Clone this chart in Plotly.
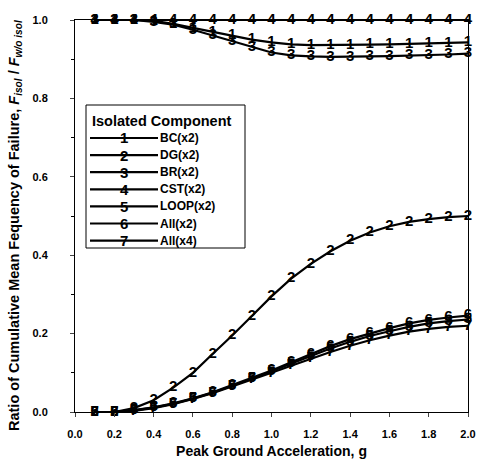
import plotly.graph_objects as go

pga = [0.1, 0.2, 0.3, 0.4, 0.5, 0.6, 0.7, 0.8, 0.9, 1.0,
       1.1, 1.2, 1.3, 1.4, 1.5, 1.6, 1.7, 1.8, 1.9, 2.0]

bc = [1.0, 1.0, 1.0, 0.998, 0.99, 0.98, 0.97, 0.96, 0.95, 0.943,
      0.938, 0.936, 0.936, 0.936, 0.937, 0.938, 0.939, 0.940, 0.941, 0.943]
dg = [0.0, 0.0, 0.01, 0.03, 0.062, 0.10, 0.148, 0.195, 0.245, 0.295,
      0.34, 0.378, 0.41, 0.437, 0.458, 0.474, 0.485, 0.492, 0.497, 0.50]
br = [1.0, 1.0, 1.0, 0.995, 0.988, 0.975, 0.96, 0.945, 0.93, 0.917,
      0.91, 0.907, 0.906, 0.906, 0.907, 0.908, 0.909, 0.911, 0.912, 0.914]
cst = [1.0] * 20
loop = [0.0, 0.0, 0.004, 0.011, 0.021, 0.034, 0.049, 0.066, 0.085, 0.104,
        0.124, 0.143, 0.162, 0.179, 0.194, 0.206, 0.217, 0.226, 0.232, 0.236]
all2 = [0.0, 0.0, 0.005, 0.012, 0.022, 0.035, 0.05, 0.068, 0.087, 0.106,
        0.127, 0.148, 0.168, 0.186, 0.201, 0.214, 0.226, 0.235, 0.241, 0.246]
all4 = [0.0, 0.0, 0.003, 0.01, 0.02, 0.033, 0.048, 0.065, 0.083, 0.1,
        0.118, 0.136, 0.153, 0.169, 0.183, 0.195, 0.205, 0.212, 0.217, 0.22]

names = ["BC(x2)", "DG(x2)", "BR(x2)", "CST(x2)", "LOOP(x2)", "All(x2)", "All(x4)"]
symbols = ["1", "2", "3", "4", "5", "6", "7"]
series = [bc, dg, br, cst, loop, all2, all4]

x_ticks = [0.0, 0.2, 0.4, 0.6, 0.8, 1.0, 1.2, 1.4, 1.6, 1.8, 2.0]
y_ticks = [0.0, 0.2, 0.4, 0.6, 0.8, 1.0]

FONT = "Liberation Sans, Arial, sans-serif"

fig = go.Figure()
for vals, sym, nm in zip(series, symbols, names):
    fig.add_trace(go.Scatter(
        x=pga, y=vals, name=nm, mode="lines+text",
        text=["<b>" + sym + "</b>"] * len(pga), textposition="middle center",
        textfont=dict(family=FONT, size=15, color="black"),
        line=dict(color="black", width=2.2), showlegend=False,
        cliponaxis=False))

FW, FH = 479, 463
L, R, T, B = 75.0, 468.0, 20.0, 412.0
W, H = R - L, B - T
def px(xp):
    return (xp - L) / W
def py(yp):
    return (B - yp) / H

shapes = [dict(type="rect", xref="paper", yref="paper",
               x0=px(86), x1=px(245), y0=py(248), y1=py(105),
               line=dict(color="black", width=1), fillcolor="white", layer="above")]
annotations = [dict(xref="paper", yref="paper", x=px(90), y=py(121),
                    text="<b>Isolated Component</b>", showarrow=False,
                    xanchor="left", yanchor="middle",
                    font=dict(family=FONT, size=14.5, color="black"))]
for i, (sym, nm) in enumerate(zip(symbols, names)):
    yy = 138 + i * 17.1
    shapes.append(dict(type="line", xref="paper", yref="paper",
                       x0=px(90), x1=px(158), y0=py(yy), y1=py(yy),
                       line=dict(color="black", width=2.2), layer="above"))
    annotations.append(dict(xref="paper", yref="paper", x=px(124), y=py(yy),
                            text="<b>" + sym + "</b>", showarrow=False,
                            xanchor="center", yanchor="middle",
                            font=dict(family=FONT, size=15, color="black")))
    annotations.append(dict(xref="paper", yref="paper", x=px(158), y=py(yy),
                            text="<b>" + nm + "</b>", showarrow=False,
                            xanchor="left", yanchor="middle",
                            font=dict(family=FONT, size=12, color="black")))

# y-axis title as rotated annotation
annotations.append(dict(
    xref="paper", yref="paper", x=px(15), y=py(226),
    text="<b>Ratio of Cumulative Mean Fequency of Failure, <i>F</i><sub><i>isol</i></sub> / <i>F</i><sub><i>w/o isol</i></sub></b>",
    textangle=-90, showarrow=False, xanchor="center", yanchor="middle",
    font=dict(family=FONT, size=14.5, color="black")))

fig.update_layout(
    width=FW, height=FH,
    margin=dict(l=int(L), r=int(FW - R), t=int(T), b=int(FH - B)),
    plot_bgcolor="white", paper_bgcolor="white",
    font=dict(family=FONT, color="black"),
    shapes=shapes, annotations=annotations,
    xaxis=dict(range=[0, 2.0], tickvals=x_ticks,
               ticktext=["<b>%.1f</b>" % v for v in x_ticks],
               tickfont=dict(family=FONT, size=11, color="black"),
               showgrid=False, zeroline=False, showline=True, linecolor="black",
               linewidth=1, mirror=True, ticks="outside", ticklen=4,
               ticklabelstandoff=8, automargin=False, ticklabeloverflow="allow",
               title=dict(text="<b>Peak Ground Acceleration, g</b>",
                          font=dict(family=FONT, size=14, color="black"), standoff=6)),
    yaxis=dict(range=[0, 1.0], tickvals=y_ticks,
               ticktext=["<b>%.1f</b>" % v for v in y_ticks],
               tickfont=dict(family=FONT, size=11, color="black"),
               ticklabelstandoff=20, automargin=False,
               showgrid=False, zeroline=False, showline=True, linecolor="black",
               linewidth=1, mirror=True, ticks="outside", ticklen=4,
               minor=dict(dtick=0.1, ticks="outside", ticklen=3, tickcolor="black")),
)

fig.write_html("out.html", config={"displayModeBar": False},
               post_script="document.body.style.margin='0';document.body.style.overflow='hidden';")
